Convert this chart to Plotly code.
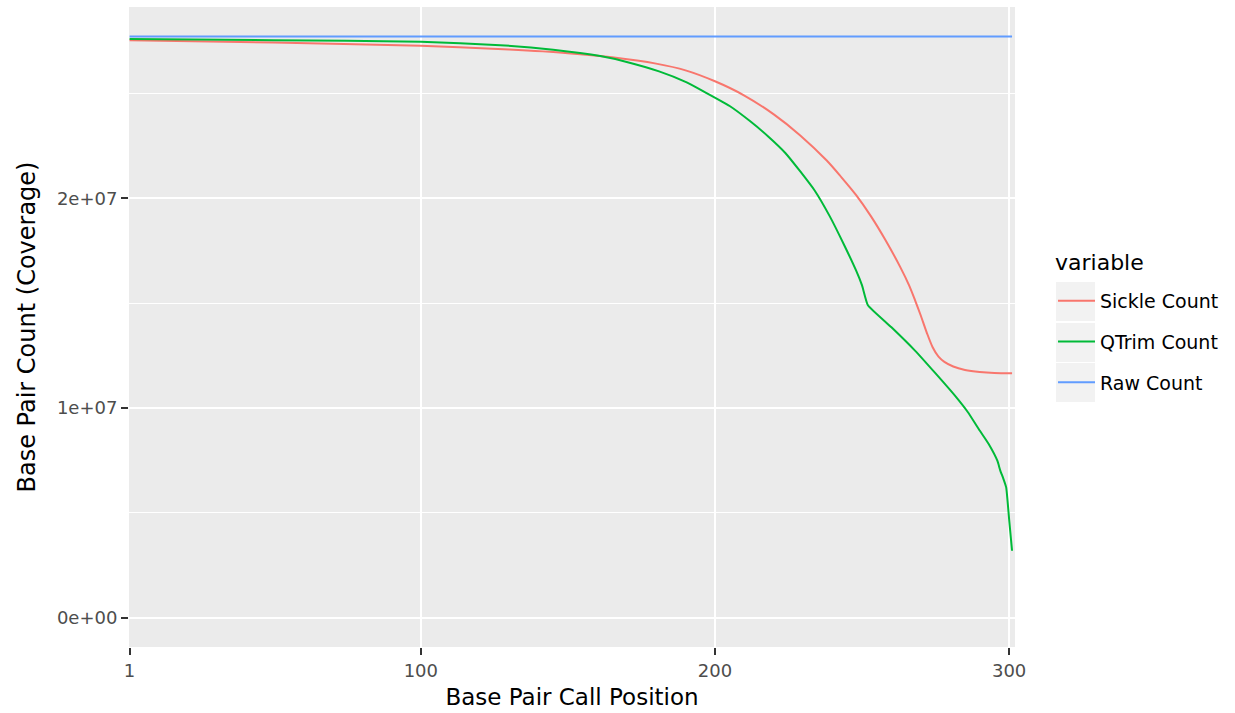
import plotly.graph_objects as go

# ---- data ----
sickle_x = [1, 50, 100, 130, 150, 165, 180, 190, 200, 210, 220, 229, 238, 243, 248, 253, 258, 263,
            266, 268, 270, 272, 274, 276, 278, 281, 285, 290, 295, 301]
sickle_y = [2.754e7, 2.743e7, 2.727e7, 2.709e7, 2.692e7, 2.672e7, 2.642e7, 2.610e7, 2.558e7, 2.490e7,
            2.400e7, 2.300e7, 2.180e7, 2.100e7, 2.015e7, 1.915e7, 1.800e7, 1.672e7,
            1.585e7, 1.515e7, 1.440e7, 1.360e7, 1.290e7, 1.245e7, 1.220e7, 1.198e7, 1.182e7, 1.172e7,
            1.167e7, 1.166e7]

qtrim_x = [1, 50, 100, 127, 145, 161, 170, 181, 190, 197, 205, 212, 218, 224, 229, 234, 239, 244, 248, 250, 252,
           260, 268, 275, 282, 286, 290, 293, 296, 297, 298, 299, 300, 301]
qtrim_y = [2.759e7, 2.754e7, 2.746e7, 2.730e7, 2.708e7, 2.678e7, 2.650e7, 2.605e7, 2.555e7, 2.503e7,
           2.440e7, 2.367e7, 2.296e7, 2.215e7, 2.128e7, 2.035e7, 1.915e7, 1.775e7, 1.655e7, 1.585e7, 1.490e7,
           1.385e7, 1.274e7, 1.165e7, 1.052e7, 0.980e7, 0.893e7, 0.830e7, 0.749e7, 0.702e7, 0.665e7,
           0.622e7, 0.470e7, 0.320e7]

raw_x = [1, 100, 200, 301]
raw_y = [2.771e7, 2.771e7, 2.771e7, 2.771e7]

series_names = ["Sickle Count", "QTrim Count", "Raw Count"]
series_colors = ["#F8766D", "#00BA38", "#619CFF"]
series_smooth = [0.8, 0.4, 0.0]

x_tickvals = [1, 100, 200, 300]
x_ticktext = ["1", "100", "200", "300"]
y_tickvals = [0, 1e7, 2e7]
y_ticktext = ["0e+00", "1e+07", "2e+07"]

FONT = "DejaVu Sans"

fig = go.Figure()
for name, xs, ys, col, sm in zip(series_names, [sickle_x, qtrim_x, raw_x], [sickle_y, qtrim_y, raw_y],
                                 series_colors, series_smooth):
    line = dict(color=col, width=2)
    if sm > 0:
        line.update(shape="spline", smoothing=sm)
    fig.add_trace(go.Scatter(x=xs, y=ys, mode="lines", name=name, legendgroup=name, line=line))

# layout geometry
W, H = 1235, 713
L, R, T, B = 129, 220, 7, 66
pw, ph = W - L - R, H - T - B
def px2paper_x(px):
    return (px - L) / pw
def px2paper_y(py):
    return (H - B - py) / ph

# legend key backgrounds (ggplot style)
shapes = []
for top in [282, 323, 363]:
    shapes.append(dict(type="rect", xref="paper", yref="paper",
                       x0=px2paper_x(1056), x1=px2paper_x(1095),
                       y0=px2paper_y(top + 39), y1=px2paper_y(top),
                       fillcolor="#F2F2F2", line=dict(width=0), layer="below"))

annotations = [dict(text="variable", xref="paper", yref="paper",
                    x=px2paper_x(1053), y=px2paper_y(262), xanchor="left", yanchor="middle",
                    showarrow=False, font=dict(family=FONT, size=22, color="#000000"))]

fig.update_layout(
    width=W, height=H,
    margin=dict(l=L, r=R, t=T, b=B),
    paper_bgcolor="white",
    plot_bgcolor="#EBEBEB",
    font=dict(family=FONT, size=18, color="#000000"),
    shapes=shapes,
    annotations=annotations,
    showlegend=True,
    legend=dict(
        font=dict(family=FONT, size=19, color="#000000"),
        x=px2paper_x(1053), xanchor="left",
        y=px2paper_y(282), yanchor="top",
        bgcolor="rgba(0,0,0,0)",
        tracegroupgap=13,
        traceorder="grouped",
        itemwidth=37,
    ),
    xaxis=dict(
        range=[0.8, 302],
        tickvals=x_tickvals, ticktext=x_ticktext,
        showgrid=True, gridcolor="white", gridwidth=2,
        zeroline=False, showline=False,
        ticks="outside", ticklen=7, tickwidth=2, tickcolor="#333333",
        tickfont=dict(family=FONT, size=18, color="#4D4D4D"),
        title=dict(text="Base Pair Call Position", font=dict(family=FONT, size=23, color="#000000"), standoff=9),
    ),
    yaxis=dict(
        range=[-1.39e6, 2.912e7],
        tickvals=y_tickvals, ticktext=y_ticktext,
        showgrid=True, gridcolor="white", gridwidth=2,
        zeroline=False, showline=False,
        ticks="outside", ticklen=7, tickwidth=2, tickcolor="#333333",
        tickfont=dict(family=FONT, size=18, color="#4D4D4D"),
        minor=dict(tickvals=[5e6, 1.5e7, 2.5e7], showgrid=True, gridcolor="white", gridwidth=1, ticks=""),
        title=dict(text="Base Pair Count (Coverage)", font=dict(family=FONT, size=24, color="#000000"), standoff=14),
    ),
)

fig.write_html("out.html")
